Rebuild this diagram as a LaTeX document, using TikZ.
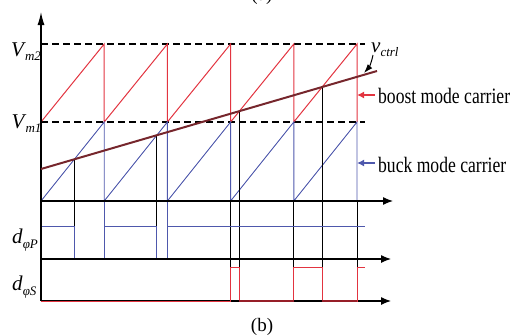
\documentclass[tikz,border=0pt]{standalone}
\usepackage{fontspec}
\setmainfont{Liberation Serif}
\usetikzlibrary{intersections,arrows.meta}
\definecolor{cred}{RGB}{226,52,64}
\definecolor{cblue}{RGB}{78,88,172}
\definecolor{cvc}{RGB}{118,38,44}
\definecolor{cdred}{RGB}{150,30,40}
\newcommand{\sublbl}[4]{\textit{#1}\kern#4\raisebox{-#3}{\fontsize{13}{13}\selectfont\textit{#2}}}
\begin{document}
\begin{tikzpicture}[x=1pt,y=-1pt,
  axisln/.style={line width=1.2pt,-{Latex[length=10pt,width=8pt]}},
  dashln/.style={line width=1.2pt,dash pattern=on 7pt off 4pt},
  redln/.style={cred,line width=1pt},
  blueln/.style={cblue,line width=0.9pt},
  swln/.style={black,line width=0.9pt},
  lbl/.style={inner sep=0pt,font=\fontsize{21}{21}\selectfont},
  txt/.style={inner sep=0pt,anchor=base west,xscale=0.8,font=\fontsize{22}{22}\selectfont}]
\useasboundingbox (0,0) rectangle (514,335);

% level coordinates
\coordinate (hiP) at (0,226);
\coordinate (loP) at (0,259);
\coordinate (hiS) at (0,267);
\coordinate (loS) at (0,301);

% intersection helpers
\path[name path=vc] (41,169) -- (377,71);
\path[name path=b1] (41,201) -- (104.2,122);
\path[name path=b2] (104.2,201) -- (167.4,122);
\path[name path=r4] (230.6,122) -- (293.8,44);
\path[name path=r5] (293.8,122) -- (357,44);
\path[name intersections={of=vc and b1,by=i1}];
\path[name intersections={of=vc and b2,by=i2}];
\path[name intersections={of=vc and r4,by=i3}];
\path[name intersections={of=vc and r5,by=i4}];

% dashed levels
\draw[dashln] (41,44) -- (365,44);
\draw[dashln] (41,122) -- (365,122);

% boost carrier (red)
\draw[redln] (41,122) -- (104.2,44) -- (104.2,122) -- (167.4,44) -- (167.4,122)
  -- (230.6,44) -- (230.6,122) -- (293.8,44) -- (293.8,122) -- (357,44) -- (357,122);
% buck carrier (blue)
\draw[blueln] (41,201) -- (104.2,122) -- (104.2,201) -- (167.4,122) -- (167.4,201)
  -- (230.6,122) -- (230.6,201) -- (293.8,122) -- (293.8,201) -- (357,122) -- (357,201);
\draw[blueln] (104.2,201) -- (104.2,226);
\draw[blueln] (167.4,201) -- (167.4,226);

% switching instants
\draw[swln] (i1) -- (i1 |- hiP);
\draw[swln] (i2) -- (i2 |- hiP);
\draw[swln] (i3) -- (i3 |- hiS);
\draw[swln] (i4) -- (i4 |- hiS);
\draw[swln] (230.6,201) -- (230.6,267);
\draw[swln] (293.8,201) -- (293.8,267);
\draw[swln] (357,201) -- (357,267);

% d_phiP pulse (blue)
\draw[blueln] (41,226) -- (i1 |- hiP) -- (i1 |- loP) -- (104.2,259) -- (104.2,226)
  -- (i2 |- hiP) -- (i2 |- loP) -- (167.4,259) -- (167.4,226) -- (365,226);

% axes
\draw[line width=1.2pt,-{Latex[length=13pt,width=7pt]}] (41,301) -- (41,12);
\draw[axisln] (41,201) -- (393,201);
\draw[axisln] (41,259) -- (391,259);
\draw[axisln] (41,301) -- (391,301);

% d_phiS pulse (red)
\draw[redln] (41,301) -- (230.6,301) -- (230.6,267) -- (i3 |- hiS) -- (i3 |- loS)
  -- (293.8,301) -- (293.8,267) -- (i4 |- hiS) -- (i4 |- loS) -- (357,301)
  -- (357,267) -- (365,267);
\draw[cdred,line width=1.6pt] (i3 |- loS) -- (293.8,301);
\draw[cdred,line width=1.6pt] (i4 |- loS) -- (357,301);

% control voltage
\draw[cvc,line width=2pt] (41,169) -- (377,71);

% labels
\node[lbl,anchor=base west] (vm2) at (11,56) {\sublbl{V}{m2}{4.5pt}{-1pt}};
\node[lbl,anchor=base west] (vm1) at (11.5,128) {\sublbl{V}{m1}{4.5pt}{-1pt}};
\node[lbl,anchor=base west] (dp) at (12,243) {\sublbl{d}{φP}{5pt}{0pt}};
\node[lbl,anchor=base west] (ds) at (12,290) {\sublbl{d}{φS}{5pt}{0pt}};
\node[lbl,anchor=base west] (vctrl) at (371,52) {\sublbl{v}{ctrl}{4pt}{0pt}};
\coordinate (vtip) at (364,73);
\draw[line width=1pt,-{Latex[length=9pt,width=6pt]}] (373,55) to[bend left=15] (vtip);

\node[txt] (boost) at (378,103) {boost mode carrier};
\node[txt] (buck) at (378,172) {buck mode carrier};
\coordinate (bt) at (357,95);
\coordinate (kt) at (357,163);
\draw[cred,line width=1.4pt,-{Latex[length=7pt,width=7pt]}] (375,95) -- (bt);
\draw[cblue,line width=1.4pt,-{Latex[length=7pt,width=7pt]}] (375,163) -- (kt);

\node[inner sep=0pt,anchor=base,font=\fontsize{19}{19}\selectfont] (capb) at (262,331) {(b)};
\node[inner sep=0pt,anchor=base,font=\fontsize{19}{19}\selectfont] (capa) at (262,0.5) {(a)};
\end{tikzpicture}
\end{document}
